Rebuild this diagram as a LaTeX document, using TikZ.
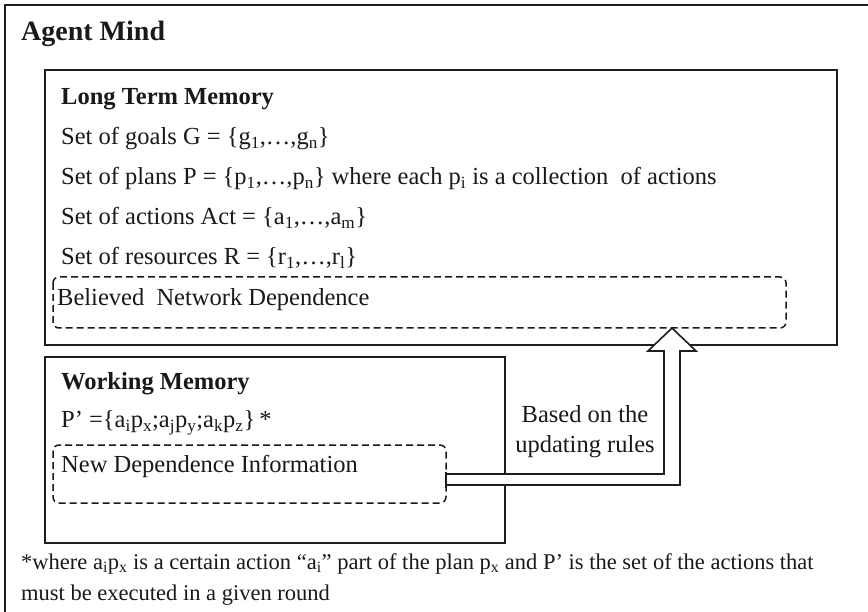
\documentclass[tikz,border=0pt]{standalone}
\usepackage{fontspec}
\setmainfont{Liberation Serif}
\newcommand\dn[1]{\textsubscript{#1}}
\begin{document}
\begin{tikzpicture}[x=1pt,y=-1pt,
  ln/.style={line width=1.6pt, draw=black!88},
  dsh/.style={line width=1.5pt, draw=black!90, dash pattern=on 7pt off 4pt, rounded corners=6pt},
  txt/.style={anchor=base west, inner sep=0pt, font=\fontsize{24.5}{28}\selectfont, text=black!90},
  btxt/.style={txt, font=\fontsize{24.5}{28}\selectfont\bfseries},
  ftxt/.style={txt, font=\fontsize{22.5}{28}\selectfont},
  ctxt/.style={anchor=base, inner sep=0pt, font=\fontsize{24.5}{28}\selectfont, text=black!90}]
\useasboundingbox (0,0) rectangle (868,612);
% outer frame (right and bottom lie outside the picture)
\coordinate (oA) at (5,5);
\draw[ln, line width=2pt] (5,640) -- (oA) -- (900,5);
\node[txt, font=\fontsize{28}{32}\selectfont\bfseries] (title) at (21,41) {Agent Mind};
% long term memory
\coordinate (ltmA) at (45,70); \coordinate (ltmB) at (837,345);
\draw[ln] (ltmA) rectangle (ltmB);
\node[btxt] (ltm) at (61,105) {Long Term Memory};
\node[txt] (goals) at (61,145) {Set of goals G = \{g\dn{1},…,g\dn{n}\}};
\node[txt] (plans) at (61,185) {Set of plans P = \{p\dn{1},…,p\dn{n}\} where each p\dn{i} is a collection\ \ of actions};
\node[txt] (acts) at (61,225) {Set of actions Act = \{a\dn{1},…,a\dn{m}\}};
\node[txt] (res) at (61,265) {Set of resources R = \{r\dn{1},…,r\dn{l}\}};
\coordinate (bA) at (53,277); \coordinate (bB) at (786,328);
\draw[dsh] (bA) rectangle (bB);
\node[txt] (bel) at (57,306) {Believed\ \ Network Dependence};
% working memory
\coordinate (wmA) at (45,357); \coordinate (wmB) at (505,543);
\draw[ln] (wmA) rectangle (wmB);
\node[btxt] (wm) at (61,389) {Working Memory};
\node[txt] (pp) at (61,428) {P’ =\{a\dn{i}p\dn{x};a\dn{j}p\dn{y};a\dn{k}p\dn{z}\}\,*};
\coordinate (nA) at (53,445); \coordinate (nB) at (446,503);
\draw[dsh] (nA) rectangle (nB);
\node[txt] (newd) at (61,472) {New Dependence Information};
% bent block arrow
\coordinate (s1) at (446,474); \coordinate (s2) at (664,474);
\coordinate (s3) at (664,351); \coordinate (h1) at (648,351);
\coordinate (tip) at (672,328); \coordinate (h2) at (696,351);
\coordinate (s4) at (680,351); \coordinate (s5) at (680,485);
\coordinate (s6) at (446,485);
\filldraw[ln, fill=white] (s1) -- (s2) -- (s3) -- (h1) -- (tip) -- (h2) -- (s4) -- (s5) -- (s6) -- cycle;
\coordinate (k1) at (446,472); \coordinate (k2) at (446,488);
\draw[ln] (k1) -- (k2);
\node[ctxt] (based) at (585,423) {Based on the};
\node[ctxt] (upd) at (585,452) {updating rules};
% footnote
\node[ftxt] (f1) at (21,569) {*where a\dn{i}p\dn{x} is a certain action “a\dn{i}” part of the plan p\dn{x} and P’ is the set of the actions that};
\node[ftxt] (f2) at (21,600) {must be executed in a given round};
\end{tikzpicture}
\end{document}
